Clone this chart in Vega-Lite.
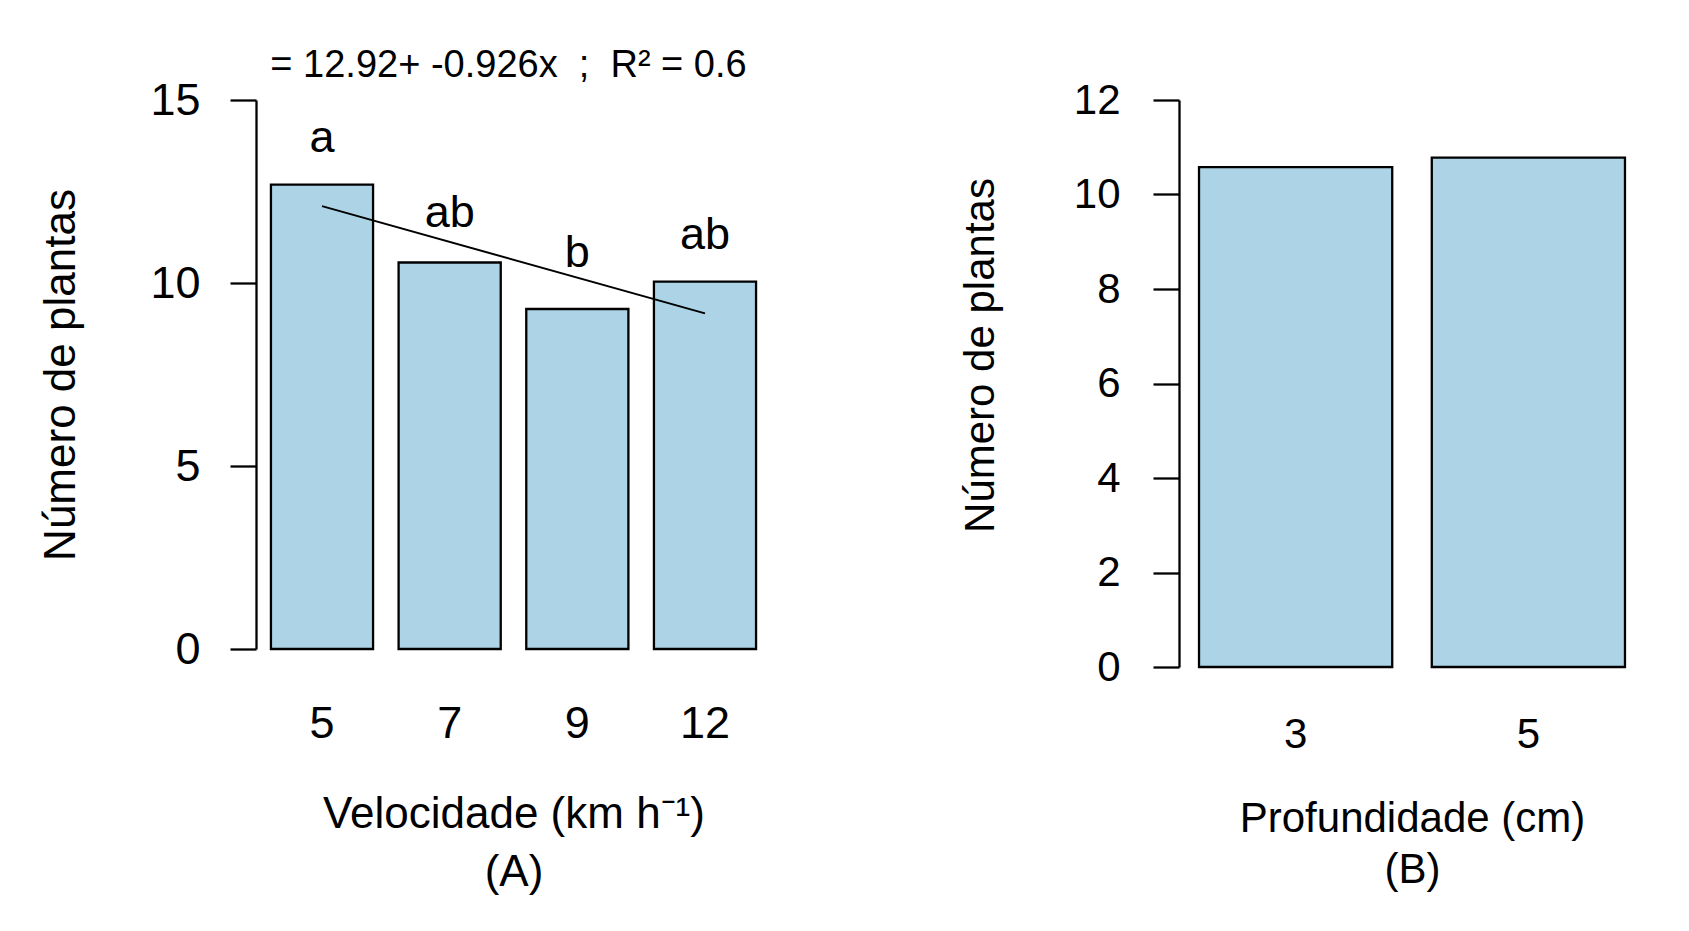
{
  "$schema": "https://vega.github.io/schema/vega-lite/v6.json",
  "background": "white",
  "padding": {"left": 39, "top": 47, "right": 5, "bottom": 5},
  "spacing": 188,
  "config": {
    "view": {"stroke": null},
    "font": "Liberation Sans",
    "axis": {
      "domainColor": "black", "tickColor": "black", "labelColor": "black", "titleColor": "black",
      "titleFontWeight": "normal", "grid": false, "labelFont": "Liberation Sans", "titleFont": "Liberation Sans"
    },
    "title": {"fontWeight": "normal", "color": "black", "font": "Liberation Sans"}
  },
  "datasets": {
    "vel": [
      {"vel": "5", "plantas": 12.69, "letra": "a", "ly": 13.58},
      {"vel": "7", "plantas": 10.56, "letra": "ab", "ly": 11.52},
      {"vel": "9", "plantas": 9.29, "letra": "b", "ly": 10.43},
      {"vel": "12", "plantas": 10.04, "letra": "ab", "ly": 10.92}
    ],
    "reg": [
      {"vel": "5", "fit": 12.1},
      {"vel": "12", "fit": 9.17}
    ],
    "prof": [
      {"prof": "3", "plantas": 10.58},
      {"prof": "5", "plantas": 10.78}
    ]
  },
  "hconcat": [
    {
      "width": 515,
      "height": 549,
      "title": {"text": "= 12.92+ -0.926x\u00a0 ;\u00a0 R² = 0.6", "fontSize": 38, "offset": -7, "anchor": "middle", "dx": -5},
      "layer": [
        {
          "data": {"name": "vel"},
          "mark": {"type": "bar", "fill": "#ADD4E6", "stroke": "black", "strokeWidth": 2.3},
          "encoding": {
            "x": {"field": "vel", "type": "nominal",
              "scale": {"domain": ["5", "7", "9", "12"], "paddingInner": 0.2, "paddingOuter": 0.117},
              "axis": {"title": ["Velocidade (km h⁻¹)", "(A)"], "labelAngle": 0, "domain": false, "ticks": false, "tickSize": 0,
                "labelFontSize": 45, "labelPadding": 52, "titleFontSize": 44, "titlePadding": 46, "titleLineHeight": 58}},
            "y": {"field": "plantas", "type": "quantitative",
              "scale": {"domain": [0, 15], "nice": false},
              "axis": {"title": "Número de plantas", "values": [0, 5, 10, 15], "tickSize": 26, "tickWidth": 2.3, "domainWidth": 2.3,
                "labelFontSize": 45, "labelPadding": 30, "titleFontSize": 44, "titlePadding": 66}}
          }
        },
        {
          "data": {"name": "reg"},
          "mark": {"type": "line", "color": "black", "strokeWidth": 2},
          "encoding": {
            "x": {"field": "vel", "type": "nominal"},
            "y": {"field": "fit", "type": "quantitative"}
          }
        },
        {
          "data": {"name": "vel"},
          "mark": {"type": "text", "fontSize": 45, "baseline": "alphabetic", "align": "center", "color": "black"},
          "encoding": {
            "x": {"field": "vel", "type": "nominal"},
            "y": {"field": "ly", "type": "quantitative"},
            "text": {"field": "letra"}
          }
        }
      ]
    },
    {
      "width": 466,
      "height": 567,
      "data": {"name": "prof"},
      "mark": {"type": "bar", "fill": "#ADD4E6", "stroke": "black", "strokeWidth": 2.3},
      "encoding": {
        "x": {"field": "prof", "type": "nominal",
          "scale": {"domain": ["3", "5"], "paddingInner": 0.17, "paddingOuter": 0.086},
          "axis": {"title": ["Profundidade (cm)", "(B)"], "labelAngle": 0, "domain": false, "ticks": false, "tickSize": 0,
            "labelFontSize": 42, "labelPadding": 47, "titleFontSize": 42, "titlePadding": 43, "titleLineHeight": 51}},
        "y": {"field": "plantas", "type": "quantitative",
          "scale": {"domain": [0, 12], "nice": false},
          "axis": {"title": "Número de plantas", "values": [0, 2, 4, 6, 8, 10, 12], "tickSize": 26, "tickWidth": 2.3, "domainWidth": 2.3,
            "labelFontSize": 42, "labelPadding": 33, "titleFontSize": 42, "titlePadding": 71, "titleY": 255}}
      }
    }
  ]
}
